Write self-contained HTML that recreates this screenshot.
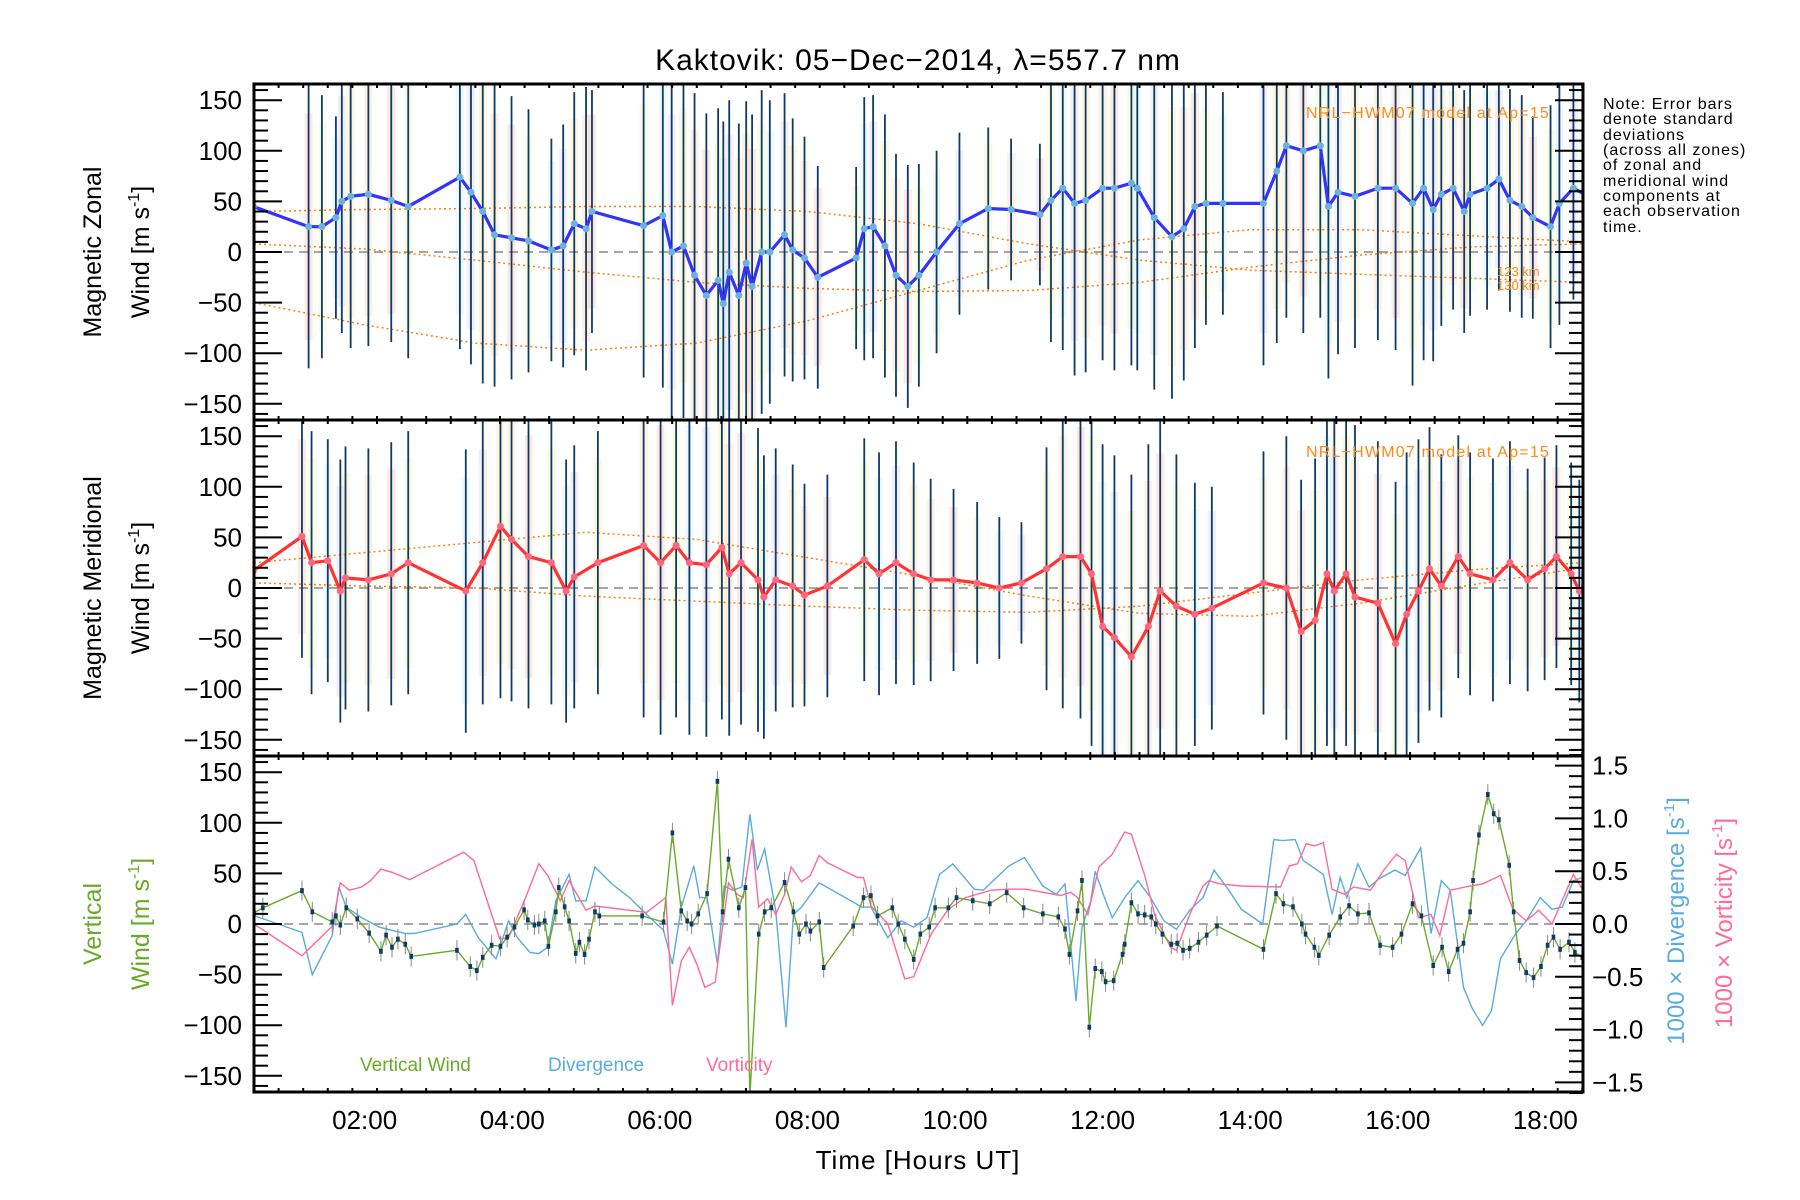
<!DOCTYPE html>
<html><head><meta charset="utf-8"><style>
body{margin:0;background:#fff;}
svg{display:block;font-family:"Liberation Sans",sans-serif;}
</style></head><body>
<svg id="chart" width="1800" height="1200" viewBox="0 0 1800 1200" xmlns="http://www.w3.org/2000/svg">
<defs>
<clipPath id="c1"><rect x="254" y="84" width="1329" height="336"/></clipPath>
<clipPath id="c2"><rect x="254" y="420" width="1329" height="336"/></clipPath>
<clipPath id="c3"><rect x="254" y="756" width="1329" height="336"/></clipPath>
</defs>
<text x="918" y="70" font-size="30" text-anchor="middle" letter-spacing="1">Kaktovik: 05−Dec−2014, λ=557.7 nm</text>
<g id="g1"></g>
<g id="g2"></g>
<g id="g3"></g>
<g id="axes"></g>
<g font-size="25">
<text transform="translate(101,252) rotate(-90)" text-anchor="middle">Magnetic Zonal</text>
<text transform="translate(149,252) rotate(-90)" text-anchor="middle">Wind [m s<tspan font-size="16" dy="-10">-1</tspan><tspan dy="10">]</tspan></text>
</g>
<g font-size="25">
<text transform="translate(101,588) rotate(-90)" text-anchor="middle">Magnetic Meridional</text>
<text transform="translate(149,588) rotate(-90)" text-anchor="middle">Wind [m s<tspan font-size="16" dy="-10">-1</tspan><tspan dy="10">]</tspan></text>
</g>
<g font-size="25" fill="#6aaa2a">
<text transform="translate(101,924) rotate(-90)" text-anchor="middle">Vertical</text>
<text transform="translate(149,924) rotate(-90)" text-anchor="middle">Wind [m s<tspan font-size="16" dy="-10">-1</tspan><tspan dy="10">]</tspan></text>
</g>
<text transform="translate(1684,921) rotate(-90)" text-anchor="middle" font-size="24" fill="#5aacdc">1000 × Divergence [s<tspan font-size="15" dy="-10">-1</tspan><tspan dy="10">]</tspan></text>
<text transform="translate(1732,923) rotate(-90)" text-anchor="middle" font-size="24" fill="#ff6a98">1000 × Vorticity [s<tspan font-size="15" dy="-10">-1</tspan><tspan dy="10">]</tspan></text>
<text x="918" y="1169" font-size="26" text-anchor="middle" letter-spacing="1">Time [Hours UT]</text>
<g font-size="16" letter-spacing="1">
<text x="1603" y="109">Note: Error bars</text><text x="1603" y="124">denote standard</text><text x="1603" y="140">deviations</text><text x="1603" y="155">(across all zones)</text><text x="1603" y="170">of zonal and</text><text x="1603" y="186">meridional wind</text><text x="1603" y="201">components at</text><text x="1603" y="216">each observation</text><text x="1603" y="232">time.</text>
</g>
<text x="1306" y="118" font-size="16" letter-spacing="1.2" fill="#ff8a1a">NRL−HWM07 model at Ap=15</text>
<text x="1306" y="457" font-size="16" letter-spacing="1.2" fill="#ff8a1a">NRL−HWM07 model at Ap=15</text>
<text x="360" y="1071" font-size="19" fill="#6aaa2a">Vertical Wind</text>
<text x="548" y="1071" font-size="19" fill="#5aacdc">Divergence</text>
<text x="706" y="1071" font-size="19" fill="#ff6a98">Vorticity</text>
</svg>
<script>
// ---- data ----
const uT=[0.49,1.24,1.42,1.61,1.69,1.81,2.05,2.36,2.59,3.29,3.44,3.6,3.76,3.99,4.22,4.53,4.69,4.84,5.0,5.08,5.78,6.04,6.16,6.32,6.47,6.63,6.79,6.86,6.94,7.07,7.17,7.25,7.38,7.49,7.69,7.8,7.96,8.14,8.66,8.77,8.89,9.05,9.2,9.36,9.51,9.75,10.06,10.45,10.76,11.15,11.3,11.46,11.62,11.77,12.0,12.16,12.39,12.47,12.7,12.94,13.1,13.25,13.4,13.63,14.18,14.36,14.49,14.72,14.95,15.06,15.19,15.42,15.73,15.97,16.2,16.35,16.48,16.59,16.75,16.9,16.98,17.21,17.37,17.52,17.68,17.83,18.07,18.19,18.38,18.53];
const uV=[45,25,25,34,50,55,57,51,45,74,59,40,17,14,11,2,6,28,23,40,26,36,0,6,-23,-43,-28,-51,-20,-43,-11,-34,0,0,17,2,-6,-25,-6,23,25,6,-23,-34,-23,0,28,43,42,37,51,63,48,51,63,63,68,63,34,15,23,45,48,48,48,80,105,100,105,45,59,55,63,63,48,63,42,57,63,40,57,63,72,51,45,34,25,48,63,57];
const uErr=[30,140,130,100,130,150,150,140,150,170,170,170,150,140,130,110,120,130,140,120,150,170,170,170,180,180,170,180,170,170,160,170,160,150,140,130,120,110,90,130,130,130,120,120,110,100,90,80,70,70,140,160,170,170,170,180,180,180,170,160,150,140,120,110,160,170,170,180,170,170,160,150,150,160,180,170,150,130,120,120,120,120,110,110,110,100,120,120,110,110];
const vT=[0.49,1.15,1.28,1.5,1.67,1.74,2.05,2.36,2.59,3.37,3.6,3.84,3.99,4.22,4.53,4.73,4.84,5.16,5.78,6.01,6.22,6.4,6.63,6.84,6.94,7.1,7.33,7.41,7.57,7.8,7.96,8.27,8.77,8.97,9.2,9.44,9.67,9.98,10.3,10.6,10.9,11.24,11.46,11.7,11.85,12.0,12.16,12.39,12.62,12.78,13.0,13.25,13.48,14.18,14.49,14.69,14.88,15.04,15.14,15.3,15.42,15.73,15.97,16.12,16.28,16.43,16.59,16.82,16.98,17.29,17.52,17.76,17.99,18.15,18.35,18.46,18.53];
const vV=[17,51,25,27,-3,10,8,14,25,-3,25,61,48,31,25,-3,11,25,42,25,42,25,23,40,14,25,8,-9,8,2,-7,2,28,14,25,14,8,8,5,0,5,19,31,31,14,-38,-49,-68,-38,-3,-18,-26,-20,5,0,-43,-32,14,-3,14,-9,-15,-55,-26,-3,19,2,31,14,8,25,8,19,31,14,-3,2];
const vErr=[20,120,130,120,130,130,130,130,130,140,140,170,160,150,140,130,130,130,170,170,170,170,170,170,160,160,150,140,130,120,110,110,120,120,120,110,100,90,80,70,60,120,150,160,170,180,180,180,180,170,150,130,120,130,150,150,160,170,170,170,170,160,160,160,150,140,130,120,120,120,120,110,110,110,110,110,110];
// model curves (HWM07)
const mT=[0.5,2,3.5,5,6.5,8,9.5,11,12.5,14,15.5,17,18.5];
const mZonalA=[40,42,43,45,45,40,28,8,-8,-18,-22,-26,-30];
const mZonalB=[8,3,-8,-20,-30,-36,-39,-38,-30,-15,-3,5,8];
const mZonalC=[-50,-72,-90,-97,-90,-68,-38,-8,12,22,22,16,10];
const mMerA=[25,35,45,55,48,30,12,-8,-25,-28,-15,3,20];
const mMerB=[5,2,0,-8,-13,-18,-22,-24,-18,-5,8,18,25];
// vertical panel
const wT=[0.5,0.62,1.15,1.29,1.56,1.61,1.67,1.75,1.9,2.06,2.22,2.29,2.37,2.45,2.55,2.63,3.25,3.43,3.52,3.6,3.72,3.84,3.93,4.03,4.16,4.21,4.3,4.36,4.44,4.49,4.59,4.63,4.71,4.77,4.86,4.91,4.98,5.04,5.12,5.18,5.76,6.05,6.17,6.29,6.37,6.43,6.52,6.64,6.78,6.85,6.93,7.07,7.16,7.22,7.34,7.42,7.51,7.69,7.81,7.89,7.98,8.04,8.16,8.22,8.62,8.76,8.86,8.95,9.15,9.23,9.32,9.44,9.53,9.65,9.73,9.91,10.02,10.24,10.47,10.7,10.93,11.19,11.4,11.49,11.55,11.66,11.72,11.82,11.9,11.99,12.04,12.15,12.27,12.3,12.39,12.48,12.57,12.66,12.72,12.81,12.93,13.01,13.09,13.18,13.3,13.41,13.55,14.18,14.35,14.45,14.58,14.7,14.75,14.87,14.93,15.07,15.22,15.34,15.46,15.61,15.76,15.93,16.05,16.2,16.32,16.48,16.6,16.69,16.81,16.89,16.98,17.02,17.1,17.22,17.3,17.37,17.51,17.57,17.65,17.74,17.84,17.94,18.03,18.11,18.2,18.32,18.4,18.5];
const wV=[11,16,33,12,2,8,-1,16,5,-9,-27,-11,-23,-15,-20,-32,-26,-42,-46,-33,-21,-22,-13,-3,14,4,-1,0,3,-22,12,36,17,3,-29,-18,-30,-15,12,8,8,2,90,13,3,0,10,30,141,12,64,16,36,-170,-10,12,16,41,12,-10,0,-7,2,-43,-2,26,28,8,16,0,-15,-35,-10,-3,16,16,26,23,20,31,16,10,7,-5,-30,13,43,-102,-44,-47,-57,-56,-30,-20,21,10,9,7,0,-10,-20,-19,-26,-24,-18,-11,-2,-25,30,20,17,0,-10,-23,-31,-11,7,18,10,11,-21,-23,-10,20,8,-41,-23,-47,-25,-19,12,43,88,128,109,103,58,12,-36,-48,-53,-42,-21,-13,-25,-18,-28,-33];
const dT=[0.5,1.15,1.29,1.56,1.65,1.75,1.96,2.2,2.37,2.55,2.67,3.25,3.37,3.54,3.78,3.95,4.07,4.24,4.36,4.48,4.59,4.77,4.86,5.0,5.12,5.35,5.59,5.82,6.05,6.17,6.29,6.46,6.54,6.64,6.78,6.87,6.99,7.11,7.22,7.32,7.42,7.57,7.71,7.81,7.92,8.16,8.74,8.86,9.09,9.27,9.44,9.62,9.79,9.97,10.26,10.38,10.73,10.94,11.19,11.37,11.49,11.64,11.72,11.84,11.9,12.01,12.13,12.3,12.48,12.65,12.83,13.0,13.18,13.36,13.51,13.71,13.88,14.17,14.32,14.44,14.61,14.72,14.99,15.11,15.22,15.31,15.46,15.61,15.75,15.96,16.1,16.31,16.45,16.59,16.71,16.89,17.01,17.15,17.27,17.39,17.6,17.74,17.93,18.09,18.23,18.38,18.5];
const dV=[0.08,-0.08,-0.48,-0.11,0.35,0.16,0.06,-0.03,-0.06,-0.09,-0.09,0,0.09,-0.13,-0.33,0.03,-0.13,-0.27,-0.28,-0.22,0.22,0.47,0.22,0.22,0.54,0.38,0.25,0.09,-0.06,-0.38,0.16,0.55,0.25,0.25,-0.38,0.36,0.32,0.35,1.04,0.51,0.71,0.13,-0.98,0.09,0.16,0.39,0.16,0.16,-0.13,0.03,-0.03,0.06,0.47,0.57,0.33,0.32,0.55,0.63,0.36,0.28,0.38,-0.73,-0.03,0.22,0.5,0.28,0.06,0.25,0.41,0.25,0.03,-0.05,0.13,0.25,0.51,0.32,0.14,0,0.8,0.79,0.8,0.6,0.47,0.09,0.44,0.25,0.57,0.35,0.43,0.51,0.46,0.72,-0.09,0.41,0.32,-0.6,-0.8,-0.96,-0.82,-0.33,-0.09,0.03,0.25,0.14,0.16,0.41,0.44];
const zT=[0.5,1.15,1.56,1.67,1.79,1.96,2.08,2.22,2.37,2.61,3.34,3.48,3.83,3.95,4.18,4.36,4.48,4.65,4.77,5.0,5.12,5.82,6.08,6.17,6.29,6.4,6.5,6.61,6.75,6.81,6.93,7.05,7.13,7.25,7.34,7.46,7.57,7.69,7.78,7.92,8.04,8.16,8.27,8.68,8.76,8.86,9.09,9.32,9.44,9.68,9.91,10.14,10.49,10.73,10.96,11.43,11.57,11.66,11.8,11.95,12.13,12.3,12.39,12.57,12.71,12.92,13.0,13.18,13.36,13.44,13.59,13.88,14.41,14.53,14.64,14.76,14.87,14.99,15.11,15.28,15.4,15.63,15.81,15.98,16.1,16.28,16.45,16.57,16.71,16.98,17.15,17.39,17.56,17.74,17.91,18.09,18.38,18.5];
const zV=[0,-0.3,-0.02,0.39,0.32,0.35,0.41,0.52,0.49,0.42,0.68,0.6,-0.14,-0.13,0.25,0.57,0.46,0.22,0.41,0.13,0.17,0.11,0.25,-0.77,-0.35,-0.22,-0.38,-0.6,-0.55,-0.24,0.39,0.28,0.25,0.8,0.16,0.24,0.09,0.28,0.54,0.4,0.46,0.65,0.58,0.44,0.44,0.17,0,-0.52,-0.5,-0.09,0.14,0.25,0.32,0.33,0.33,0.27,0.3,0.25,0.09,0.54,0.66,0.87,0.85,0.46,0.08,-0.22,-0.25,0.09,0.36,0.41,0.38,0.36,0.35,0.55,0.57,0.76,0.74,0.77,0.33,0.28,0.35,0.32,0.51,0.66,0.6,0.06,0.09,-0.11,0.32,0.36,0.38,0.46,0.14,0.03,0.13,0,0.47,0.33];
const yTicks=[-150,-100,-50,0,50,100,150];
const rTicks=[-1.5,-1.0,-0.5,0.0,0.5,1.0,1.5];
const xTickLabels=["02:00","04:00","06:00","08:00","10:00","12:00","14:00","16:00","18:00"];
const xTickHours=[2,4,6,8,10,12,14,16,18];

// ---- axis functions ----
const L=254,R=1583,H=336,TOPS=[84,420,756];
const T0=0.5,T1=18.51;
function X(t){return L+(t-T0)/(T1-T0)*(R-L);}
function Y(p,v){return TOPS[p]+168-v*1.012;}
function YR(v){return TOPS[2]+168-v*105.6;}
const NS="http://www.w3.org/2000/svg";
function mk(tag,parent,attrs){const e=document.createElementNS(NS,tag);for(const k in attrs)e.setAttribute(k,attrs[k]);parent.appendChild(e);return e;}
function pathD(ts,vs,fy){return ts.map((t,i)=>(i?'L':'M')+X(t).toFixed(1)+','+fy(vs[i]).toFixed(1)).join('');}

const g1=document.getElementById('g1'),g2=document.getElementById('g2'),g3=document.getElementById('g3'),ax=document.getElementById('axes');
const c1=mk('g',g1,{'clip-path':'url(#c1)'}),c2=mk('g',g2,{'clip-path':'url(#c2)'}),c3=mk('g',g3,{'clip-path':'url(#c3)'});
const pastel=['#fbd5a8','#f9b9a6','#e6f5a9','#c6ecf5','#cfcdf0','#fbe7a0'];

function windPanel(p,clip,ts,vs,errs,models,lineCol,dotCol,nm){
  ts.forEach((t,i)=>{
    const e=errs[i]||100;
    const b=mk('rect',clip,{x:X(t)-4,y:Y(p,vs[i]+e*0.8),width:8,height:e*1.6*1.012,fill:pastel[i%6],opacity:0.32});
    
    
  });
  const z=mk('line',clip,{x1:L,x2:R,y1:Y(p,0),y2:Y(p,0),stroke:'#888',"stroke-width":1.5,"stroke-dasharray":"9,6"});
  
  
  models.forEach((m,k)=>{
    const ml=mk('path',clip,{d:pathD(mT,m,v=>Y(p,v)),fill:'none',stroke:'#ff7f0e',"stroke-width":1.5,"stroke-dasharray":"2,3"});
    
    
  });
  ts.forEach((t,i)=>{
    const e=errs[i]||100;
    const eb=mk('line',clip,{x1:X(t),x2:X(t),y1:Y(p,vs[i]+e),y2:Y(p,vs[i]-e),stroke:'#0d3b66',"stroke-width":1.8});
    
    
  });
  const ln=mk('path',clip,{d:pathD(ts,vs,v=>Y(p,v)),fill:'none',stroke:lineCol,"stroke-width":3.2});
  
  
  ts.forEach((t,i)=>{
    const c=mk('circle',clip,{cx:X(t),cy:Y(p,vs[i]),r:3.5,fill:dotCol});
    
    
  });
}
windPanel(0,c1,uT,uV,uErr,[mZonalA,mZonalB,mZonalC],'#3333ff','#6ab4dc','zonal');
windPanel(1,c2,vT,vV,vErr,[mMerA,mMerB],'#ff3333','#ff6680','meridional');
for(const [lab,yy] of [['123 km',276],['130 km',290]]){
  const t=mk('text',ax,{x:1497,y:yy,"font-size":13,fill:'#ff8a1a'});t.textContent=lab;
  
  
}

// vertical panel
const z3=mk('line',c3,{x1:L,x2:R,y1:Y(2,0),y2:Y(2,0),stroke:'#888',"stroke-width":1.5,"stroke-dasharray":"9,6"});


const dl=mk('path',c3,{d:pathD(dT,dV,YR),fill:'none',stroke:'#5aacdc',"stroke-width":1.4});


const zl=mk('path',c3,{d:pathD(zT,zV,YR),fill:'none',stroke:'#ff6a98',"stroke-width":1.4});


wT.forEach((t,i)=>{
  const eb=mk('line',c3,{x1:X(t),x2:X(t),y1:Y(2,wV[i]+10),y2:Y(2,wV[i]-10),stroke:'#888',"stroke-width":1});
  
  
});
const wl=mk('path',c3,{d:pathD(wT,wV,v=>Y(2,v)),fill:'none',stroke:'#6aaa2a',"stroke-width":1.4});


wT.forEach((t,i)=>{
  const r=mk('rect',c3,{x:X(t)-1.8,y:Y(2,wV[i])-2.5,width:3.6,height:5,fill:'#0d3b66'});
  
  
});

// axes frames & ticks
for(let p=0;p<3;p++){
  const top=TOPS[p];
  const fr=mk('rect',ax,{x:L,y:top,width:R-L,height:H,fill:'none',stroke:'#000',"stroke-width":3});
  
  
  for(let v=-160;v<=160;v+=10){
    const y=Y(p,v),maj=(v%50===0),len=maj?28:14;
    mk('line',ax,{x1:L,x2:L+len,y1:y,y2:y,stroke:'#000',"stroke-width":2});
    if(p<2)mk('line',ax,{x1:R,x2:R-len,y1:y,y2:y,stroke:'#000',"stroke-width":2});
  }
  yTicks.forEach(v=>{
    const t=mk('text',ax,{x:242,y:Y(p,v)+9,"font-size":26,"text-anchor":"end"});
    t.textContent=v<0?'−'+(-v):String(v);
    
    
  });
  for(let m=30;m<=18.5*60;m+=20){
    const t=m/60;if(t<T0)continue;const x=X(t),maj=(m%120===0),len=maj?10:4;
    mk('line',ax,{x1:x,x2:x,y1:top+H,y2:top+H-len,stroke:'#000',"stroke-width":2});
    mk('line',ax,{x1:x,x2:x,y1:top,y2:top+len,stroke:'#000',"stroke-width":2});
  }
}
for(let v=-1.6;v<=1.61;v+=0.1){
  const y=YR(v),maj=Math.abs(Math.round(v*10))%5===0,len=maj?28:14;
  mk('line',ax,{x1:R,x2:R-len,y1:y,y2:y,stroke:'#000',"stroke-width":2});
}
rTicks.forEach(v=>{
  const t=mk('text',ax,{x:1592,y:YR(v)+9,"font-size":26});
  t.textContent=(v<0?'−':'')+Math.abs(v).toFixed(1);
  
  
});
xTickHours.forEach((h,i)=>{
  const t=mk('text',ax,{x:X(h),y:1129,"font-size":26,"text-anchor":"middle"});
  t.textContent=xTickLabels[i];
  
  
});
</script>
</body></html>
